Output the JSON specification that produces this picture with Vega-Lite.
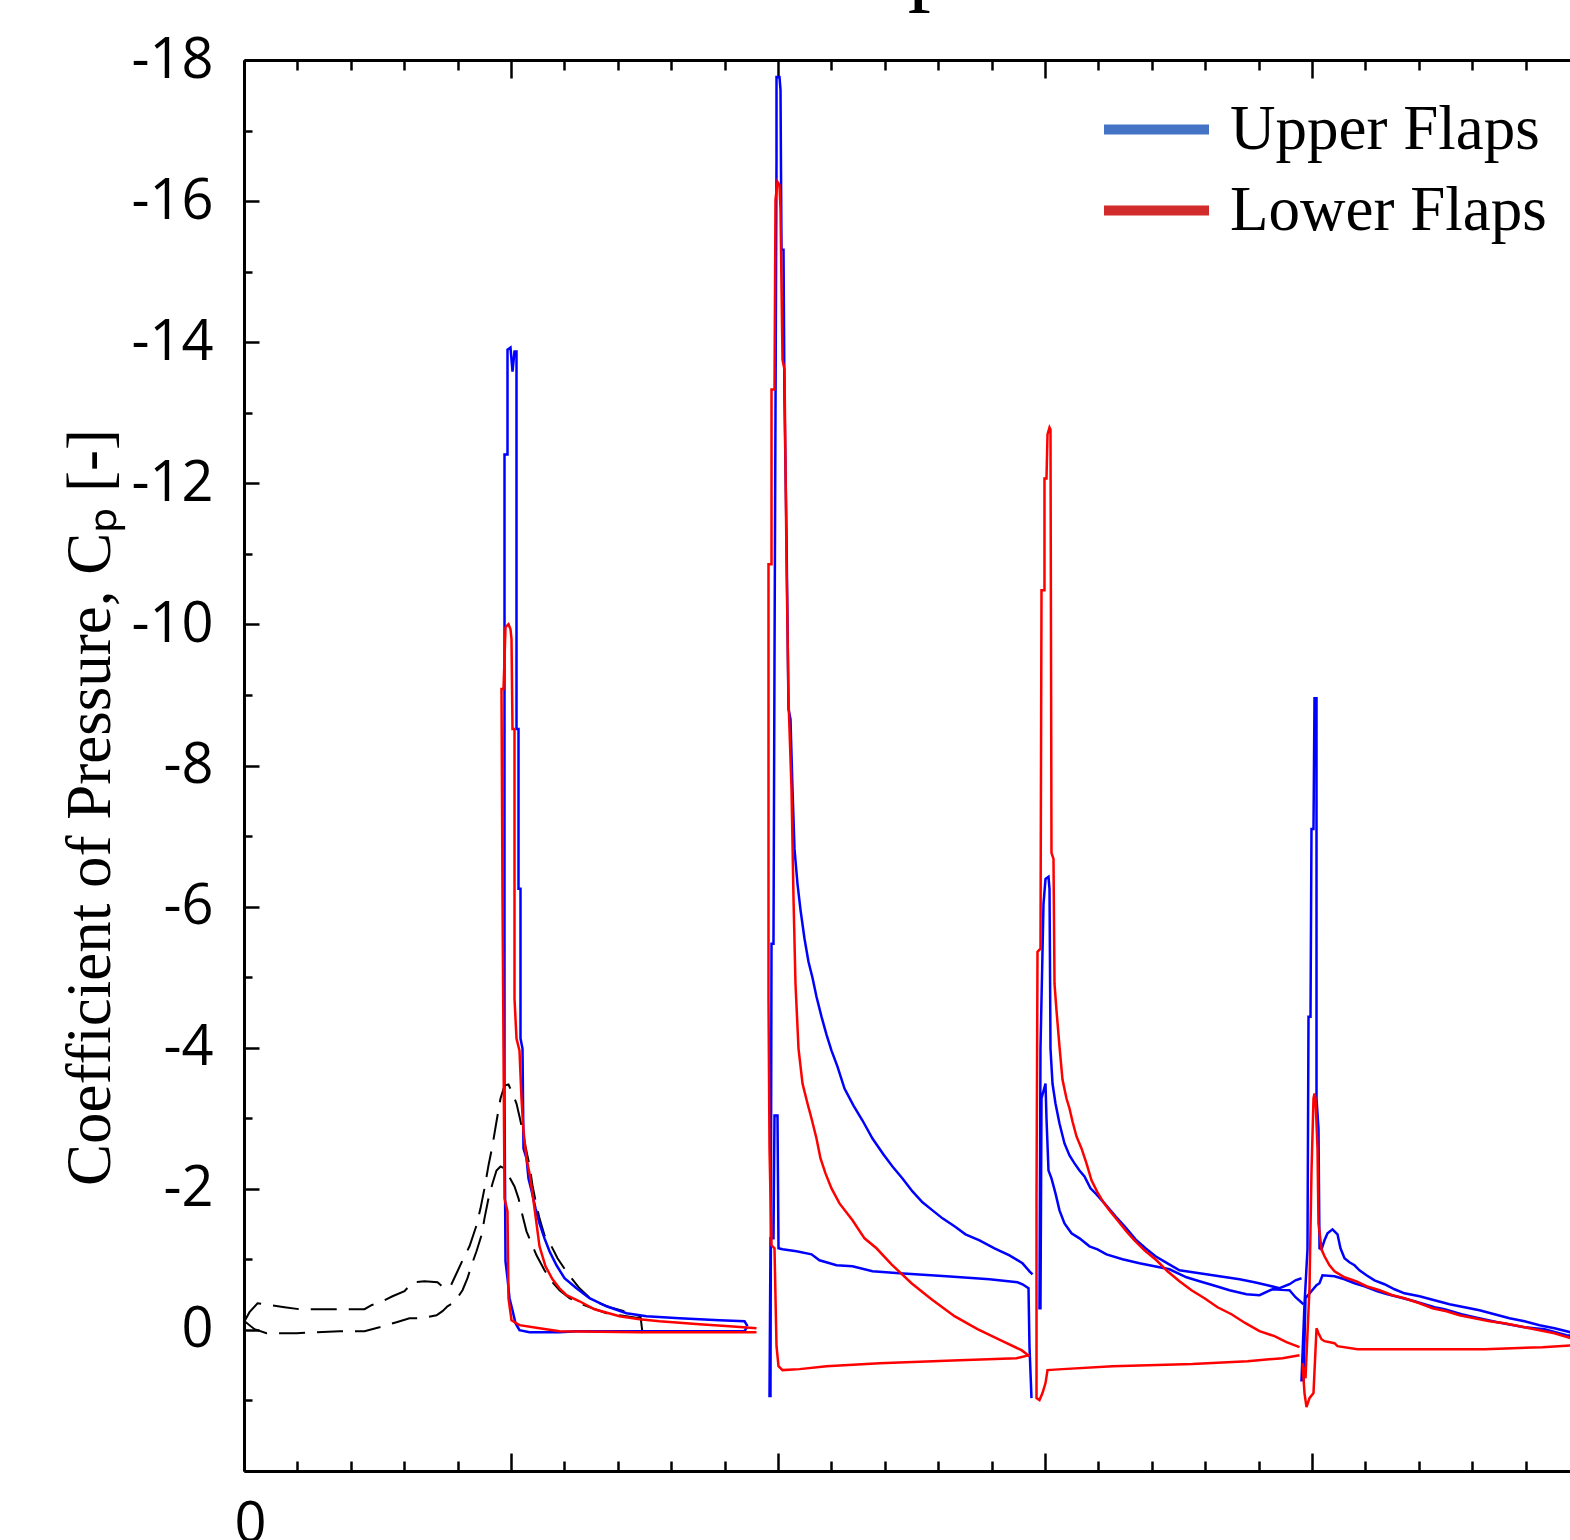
{
  "$schema": "https://vega.github.io/schema/vega-lite/v6.json",
  "width": 1326,
  "height": 1411,
  "autosize": {"type": "none"},
  "padding": {"left": 244, "top": 60, "right": 0, "bottom": 69},
  "background": "white",
  "config": {"view": {"stroke": null}},
  "title": {"text": "Cp", "font": "Liberation Serif", "fontSize": 92, "fontWeight": "normal", "color": "black", "anchor": "middle", "frame": "group", "offset": -54, "baseline": "alphabetic", "dx": -7},
  "datasets": {
    "base": [
      {"s":"A","i":0,"x":0.0019,"y":-0.123},{"s":"A","i":1,"x":0.0206,"y":-0.251},{"s":"A","i":2,"x":0.0506,"y":-0.378},{"s":"A","i":3,"x":0.1517,"y":-0.321},{"s":"A","i":4,"x":0.2079,"y":-0.293},{"s":"A","i":5,"x":0.4513,"y":-0.293},{"s":"A","i":6,"x":0.4775,"y":-0.350},{"s":"A","i":7,"x":0.5262,"y":-0.420},{"s":"A","i":8,"x":0.5562,"y":-0.477},{"s":"A","i":9,"x":0.6011,"y":-0.548},{"s":"A","i":10,"x":0.6311,"y":-0.675},{"s":"A","i":11,"x":0.6760,"y":-0.689},{"s":"A","i":12,"x":0.7247,"y":-0.675},{"s":"A","i":13,"x":0.7509,"y":-0.590},{"s":"A","i":14,"x":0.7734,"y":-0.619},{"s":"A","i":15,"x":0.7996,"y":-0.831},{"s":"A","i":16,"x":0.8221,"y":-1.015},{"s":"A","i":17,"x":0.8446,"y":-1.185},{"s":"A","i":18,"x":0.8708,"y":-1.482},{"s":"A","i":19,"x":0.8858,"y":-1.723},{"s":"A","i":20,"x":0.9007,"y":-2.006},{"s":"A","i":21,"x":0.9157,"y":-2.331},{"s":"A","i":22,"x":0.9307,"y":-2.614},{"s":"A","i":23,"x":0.9457,"y":-2.954},{"s":"A","i":24,"x":0.9607,"y":-3.280},{"s":"A","i":25,"x":0.9757,"y":-3.464},{"s":"A","i":26,"x":0.9906,"y":-3.478},{"s":"A","i":27,"x":1.0056,"y":-3.350},{"s":"A","i":28,"x":1.0206,"y":-3.209},{"s":"A","i":29,"x":1.0318,"y":-3.025},{"s":"A","i":30,"x":1.0431,"y":-2.827},{"s":"A","i":31,"x":1.0543,"y":-2.600},{"s":"A","i":32,"x":1.0693,"y":-2.331},{"s":"A","i":33,"x":1.0805,"y":-2.048},{"s":"A","i":34,"x":1.0955,"y":-1.765},{"s":"A","i":35,"x":1.1067,"y":-1.581},{"s":"A","i":36,"x":1.1255,"y":-1.340},{"s":"A","i":37,"x":1.1517,"y":-1.185},{"s":"A","i":38,"x":1.1742,"y":-1.015},{"s":"A","i":39,"x":1.2116,"y":-0.803},{"s":"A","i":40,"x":1.2566,"y":-0.590},{"s":"A","i":41,"x":1.3052,"y":-0.420},{"s":"A","i":42,"x":1.3689,"y":-0.321},{"s":"A","i":43,"x":1.4251,"y":-0.265},{"s":"A","i":44,"x":1.4850,"y":-0.194},{"s":"A","i":45,"x":1.4925,"y":0.047},
      {"s":"B","i":0,"x":0.0019,"y":-0.123},{"s":"B","i":1,"x":0.0393,"y":-0.010},{"s":"B","i":2,"x":0.0843,"y":0.047},{"s":"B","i":3,"x":0.1966,"y":0.047},{"s":"B","i":4,"x":0.3577,"y":0.018},{"s":"B","i":5,"x":0.4513,"y":0.018},{"s":"B","i":6,"x":0.5075,"y":-0.038},{"s":"B","i":7,"x":0.5712,"y":-0.109},{"s":"B","i":8,"x":0.6199,"y":-0.166},{"s":"B","i":9,"x":0.6648,"y":-0.166},{"s":"B","i":10,"x":0.7210,"y":-0.208},{"s":"B","i":11,"x":0.7434,"y":-0.265},{"s":"B","i":12,"x":0.7622,"y":-0.335},{"s":"B","i":13,"x":0.7884,"y":-0.392},{"s":"B","i":14,"x":0.8034,"y":-0.477},{"s":"B","i":15,"x":0.8184,"y":-0.562},{"s":"B","i":16,"x":0.8371,"y":-0.732},{"s":"B","i":17,"x":0.8521,"y":-0.916},{"s":"B","i":18,"x":0.8708,"y":-1.114},{"s":"B","i":19,"x":0.8895,"y":-1.340},{"s":"B","i":20,"x":0.9007,"y":-1.581},{"s":"B","i":21,"x":0.9157,"y":-1.864},{"s":"B","i":22,"x":0.9307,"y":-2.076},{"s":"B","i":23,"x":0.9457,"y":-2.260},{"s":"B","i":24,"x":0.9607,"y":-2.317},{"s":"B","i":25,"x":0.9757,"y":-2.289},{"s":"B","i":26,"x":0.9906,"y":-2.190},{"s":"B","i":27,"x":1.0131,"y":-2.034},{"s":"B","i":28,"x":1.0281,"y":-1.864},{"s":"B","i":29,"x":1.0431,"y":-1.623},{"s":"B","i":30,"x":1.0581,"y":-1.397},{"s":"B","i":31,"x":1.0768,"y":-1.227},{"s":"B","i":32,"x":1.0955,"y":-1.057},{"s":"B","i":33,"x":1.1255,"y":-0.845},{"s":"B","i":34,"x":1.1517,"y":-0.689},{"s":"B","i":35,"x":1.1816,"y":-0.562},{"s":"B","i":36,"x":1.2191,"y":-0.449},{"s":"B","i":37,"x":1.2566,"y":-0.378},{"s":"B","i":38,"x":1.3052,"y":-0.307},{"s":"B","i":39,"x":1.3577,"y":-0.236},{"s":"B","i":40,"x":1.4064,"y":-0.208},{"s":"B","i":41,"x":1.4813,"y":-0.166},{"s":"B","i":42,"x":1.4925,"y":-0.137}
    ],
    "flaps": [
      {"s":"b1","g":"Upper Flaps","i":0,"x":1.8858,"y":-0.052},{"s":"b1","g":"Upper Flaps","i":1,"x":1.8745,"y":0.018},{"s":"b1","g":"Upper Flaps","i":2,"x":1.7060,"y":0.018},{"s":"b1","g":"Upper Flaps","i":3,"x":1.4925,"y":0.018},{"s":"b1","g":"Upper Flaps","i":4,"x":1.3315,"y":0.018},{"s":"b1","g":"Upper Flaps","i":5,"x":1.2453,"y":0.018},{"s":"b1","g":"Upper Flaps","i":6,"x":1.1816,"y":0.033},{"s":"b1","g":"Upper Flaps","i":7,"x":1.0693,"y":0.033},{"s":"b1","g":"Upper Flaps","i":8,"x":1.0318,"y":0.004},{"s":"b1","g":"Upper Flaps","i":9,"x":1.0169,"y":-0.095},{"s":"b1","g":"Upper Flaps","i":10,"x":1.0056,"y":-0.279},{"s":"b1","g":"Upper Flaps","i":11,"x":0.9944,"y":-0.449},{"s":"b1","g":"Upper Flaps","i":12,"x":0.9869,"y":-0.732},{"s":"b1","g":"Upper Flaps","i":13,"x":0.9794,"y":-0.972},{"s":"b1","g":"Upper Flaps","i":14,"x":0.9757,"y":-3.280},{"s":"b1","g":"Upper Flaps","i":15,"x":0.9757,"y":-12.409},{"s":"b1","g":"Upper Flaps","i":16,"x":0.9869,"y":-12.409},{"s":"b1","g":"Upper Flaps","i":17,"x":0.9869,"y":-13.895},{"s":"b1","g":"Upper Flaps","i":18,"x":0.9981,"y":-13.924},{"s":"b1","g":"Upper Flaps","i":19,"x":1.0056,"y":-13.584},{"s":"b1","g":"Upper Flaps","i":20,"x":1.0131,"y":-13.867},{"s":"b1","g":"Upper Flaps","i":21,"x":1.0206,"y":-13.867},{"s":"b1","g":"Upper Flaps","i":22,"x":1.0206,"y":-8.517},{"s":"b1","g":"Upper Flaps","i":23,"x":1.0281,"y":-8.517},{"s":"b1","g":"Upper Flaps","i":24,"x":1.0281,"y":-6.252},{"s":"b1","g":"Upper Flaps","i":25,"x":1.0356,"y":-6.252},{"s":"b1","g":"Upper Flaps","i":26,"x":1.0356,"y":-4.129},{"s":"b1","g":"Upper Flaps","i":27,"x":1.0431,"y":-3.987},{"s":"b1","g":"Upper Flaps","i":28,"x":1.0468,"y":-2.572},{"s":"b1","g":"Upper Flaps","i":29,"x":1.0581,"y":-2.430},{"s":"b1","g":"Upper Flaps","i":30,"x":1.0655,"y":-2.147},{"s":"b1","g":"Upper Flaps","i":31,"x":1.0768,"y":-1.977},{"s":"b1","g":"Upper Flaps","i":32,"x":1.0918,"y":-1.723},{"s":"b1","g":"Upper Flaps","i":33,"x":1.1067,"y":-1.510},{"s":"b1","g":"Upper Flaps","i":34,"x":1.1255,"y":-1.298},{"s":"b1","g":"Upper Flaps","i":35,"x":1.1442,"y":-1.114},{"s":"b1","g":"Upper Flaps","i":36,"x":1.1704,"y":-0.916},{"s":"b1","g":"Upper Flaps","i":37,"x":1.2004,"y":-0.732},{"s":"b1","g":"Upper Flaps","i":38,"x":1.2453,"y":-0.590},{"s":"b1","g":"Upper Flaps","i":39,"x":1.2940,"y":-0.449},{"s":"b1","g":"Upper Flaps","i":40,"x":1.3577,"y":-0.335},{"s":"b1","g":"Upper Flaps","i":41,"x":1.4326,"y":-0.236},{"s":"b1","g":"Upper Flaps","i":42,"x":1.5075,"y":-0.194},{"s":"b1","g":"Upper Flaps","i":43,"x":1.6311,"y":-0.166},{"s":"b1","g":"Upper Flaps","i":44,"x":1.7809,"y":-0.137},{"s":"b1","g":"Upper Flaps","i":45,"x":1.8745,"y":-0.123},{"s":"b1","g":"Upper Flaps","i":46,"x":1.8858,"y":-0.052},
      {"s":"r1","g":"Lower Flaps","i":0,"x":1.9195,"y":0.033},{"s":"r1","g":"Lower Flaps","i":1,"x":1.7060,"y":0.033},{"s":"r1","g":"Lower Flaps","i":2,"x":1.4813,"y":0.033},{"s":"r1","g":"Lower Flaps","i":3,"x":1.1816,"y":0.018},{"s":"r1","g":"Lower Flaps","i":4,"x":1.1067,"y":-0.024},{"s":"r1","g":"Lower Flaps","i":5,"x":1.0318,"y":-0.067},{"s":"r1","g":"Lower Flaps","i":6,"x":1.0019,"y":-0.137},{"s":"r1","g":"Lower Flaps","i":7,"x":0.9906,"y":-0.449},{"s":"r1","g":"Lower Flaps","i":8,"x":0.9869,"y":-1.680},{"s":"r1","g":"Lower Flaps","i":9,"x":0.9757,"y":-1.864},{"s":"r1","g":"Lower Flaps","i":10,"x":0.9682,"y":-6.110},{"s":"r1","g":"Lower Flaps","i":11,"x":0.9644,"y":-9.083},{"s":"r1","g":"Lower Flaps","i":12,"x":0.9719,"y":-9.083},{"s":"r1","g":"Lower Flaps","i":13,"x":0.9757,"y":-9.507},{"s":"r1","g":"Lower Flaps","i":14,"x":0.9794,"y":-9.960},{"s":"r1","g":"Lower Flaps","i":15,"x":0.9906,"y":-10.003},{"s":"r1","g":"Lower Flaps","i":16,"x":0.9981,"y":-9.932},{"s":"r1","g":"Lower Flaps","i":17,"x":1.0019,"y":-9.791},{"s":"r1","g":"Lower Flaps","i":18,"x":1.0056,"y":-8.517},{"s":"r1","g":"Lower Flaps","i":19,"x":1.0131,"y":-8.517},{"s":"r1","g":"Lower Flaps","i":20,"x":1.0131,"y":-4.695},{"s":"r1","g":"Lower Flaps","i":21,"x":1.0206,"y":-4.129},{"s":"r1","g":"Lower Flaps","i":22,"x":1.0318,"y":-3.959},{"s":"r1","g":"Lower Flaps","i":23,"x":1.0393,"y":-3.280},{"s":"r1","g":"Lower Flaps","i":24,"x":1.0468,"y":-2.812},{"s":"r1","g":"Lower Flaps","i":25,"x":1.0581,"y":-2.430},{"s":"r1","g":"Lower Flaps","i":26,"x":1.0693,"y":-2.218},{"s":"r1","g":"Lower Flaps","i":27,"x":1.0805,"y":-1.935},{"s":"r1","g":"Lower Flaps","i":28,"x":1.0955,"y":-1.510},{"s":"r1","g":"Lower Flaps","i":29,"x":1.1067,"y":-1.185},{"s":"r1","g":"Lower Flaps","i":30,"x":1.1292,"y":-0.902},{"s":"r1","g":"Lower Flaps","i":31,"x":1.1554,"y":-0.718},{"s":"r1","g":"Lower Flaps","i":32,"x":1.1816,"y":-0.590},{"s":"r1","g":"Lower Flaps","i":33,"x":1.2079,"y":-0.491},{"s":"r1","g":"Lower Flaps","i":34,"x":1.2566,"y":-0.406},{"s":"r1","g":"Lower Flaps","i":35,"x":1.3127,"y":-0.293},{"s":"r1","g":"Lower Flaps","i":36,"x":1.4064,"y":-0.194},{"s":"r1","g":"Lower Flaps","i":37,"x":1.4813,"y":-0.151},{"s":"r1","g":"Lower Flaps","i":38,"x":1.5562,"y":-0.123},{"s":"r1","g":"Lower Flaps","i":39,"x":1.7060,"y":-0.081},{"s":"r1","g":"Lower Flaps","i":40,"x":1.8184,"y":-0.052},{"s":"r1","g":"Lower Flaps","i":41,"x":1.9195,"y":-0.024},
      {"s":"b2","g":"Upper Flaps","i":0,"x":2.9494,"y":0.967},{"s":"b2","g":"Upper Flaps","i":1,"x":2.9419,"y":0.231},{"s":"b2","g":"Upper Flaps","i":2,"x":2.9382,"y":-0.590},{"s":"b2","g":"Upper Flaps","i":3,"x":2.9157,"y":-0.647},{"s":"b2","g":"Upper Flaps","i":4,"x":2.8970,"y":-0.675},{"s":"b2","g":"Upper Flaps","i":5,"x":2.7921,"y":-0.718},{"s":"b2","g":"Upper Flaps","i":6,"x":2.6311,"y":-0.760},{"s":"b2","g":"Upper Flaps","i":7,"x":2.4551,"y":-0.803},{"s":"b2","g":"Upper Flaps","i":8,"x":2.3539,"y":-0.831},{"s":"b2","g":"Upper Flaps","i":9,"x":2.2790,"y":-0.902},{"s":"b2","g":"Upper Flaps","i":10,"x":2.2191,"y":-0.916},{"s":"b2","g":"Upper Flaps","i":11,"x":2.1554,"y":-0.987},{"s":"b2","g":"Upper Flaps","i":12,"x":2.1255,"y":-1.071},{"s":"b2","g":"Upper Flaps","i":13,"x":2.0693,"y":-1.114},{"s":"b2","g":"Upper Flaps","i":14,"x":2.0169,"y":-1.142},{"s":"b2","g":"Upper Flaps","i":15,"x":2.0019,"y":-1.157},{"s":"b2","g":"Upper Flaps","i":16,"x":1.9981,"y":-3.039},{"s":"b2","g":"Upper Flaps","i":17,"x":1.9869,"y":-3.039},{"s":"b2","g":"Upper Flaps","i":18,"x":1.9831,"y":-1.298},{"s":"b2","g":"Upper Flaps","i":19,"x":1.9719,"y":-1.298},{"s":"b2","g":"Upper Flaps","i":20,"x":1.9682,"y":0.938},{"s":"b2","g":"Upper Flaps","i":21,"x":1.9719,"y":0.938},{"s":"b2","g":"Upper Flaps","i":22,"x":1.9757,"y":-5.473},{"s":"b2","g":"Upper Flaps","i":23,"x":1.9831,"y":-5.473},{"s":"b2","g":"Upper Flaps","i":24,"x":1.9869,"y":-9.507},{"s":"b2","g":"Upper Flaps","i":25,"x":1.9944,"y":-16.585},{"s":"b2","g":"Upper Flaps","i":26,"x":1.9944,"y":-17.759},{"s":"b2","g":"Upper Flaps","i":27,"x":2.0056,"y":-17.759},{"s":"b2","g":"Upper Flaps","i":28,"x":2.0094,"y":-17.575},{"s":"b2","g":"Upper Flaps","i":29,"x":2.0131,"y":-15.311},{"s":"b2","g":"Upper Flaps","i":30,"x":2.0206,"y":-15.311},{"s":"b2","g":"Upper Flaps","i":31,"x":2.0243,"y":-13.187},{"s":"b2","g":"Upper Flaps","i":32,"x":2.0318,"y":-11.277},{"s":"b2","g":"Upper Flaps","i":33,"x":2.0393,"y":-8.800},{"s":"b2","g":"Upper Flaps","i":34,"x":2.0468,"y":-8.658},{"s":"b2","g":"Upper Flaps","i":35,"x":2.0543,"y":-7.667},{"s":"b2","g":"Upper Flaps","i":36,"x":2.0618,"y":-6.818},{"s":"b2","g":"Upper Flaps","i":37,"x":2.0730,"y":-6.323},{"s":"b2","g":"Upper Flaps","i":38,"x":2.0843,"y":-5.955},{"s":"b2","g":"Upper Flaps","i":39,"x":2.0993,"y":-5.544},{"s":"b2","g":"Upper Flaps","i":40,"x":2.1142,"y":-5.219},{"s":"b2","g":"Upper Flaps","i":41,"x":2.1292,"y":-4.992},{"s":"b2","g":"Upper Flaps","i":42,"x":2.1442,"y":-4.723},{"s":"b2","g":"Upper Flaps","i":43,"x":2.1629,"y":-4.440},{"s":"b2","g":"Upper Flaps","i":44,"x":2.1816,"y":-4.185},{"s":"b2","g":"Upper Flaps","i":45,"x":2.2004,"y":-3.959},{"s":"b2","g":"Upper Flaps","i":46,"x":2.2228,"y":-3.733},{"s":"b2","g":"Upper Flaps","i":47,"x":2.2491,"y":-3.421},{"s":"b2","g":"Upper Flaps","i":48,"x":2.2828,"y":-3.180},{"s":"b2","g":"Upper Flaps","i":49,"x":2.3165,"y":-2.968},{"s":"b2","g":"Upper Flaps","i":50,"x":2.3539,"y":-2.713},{"s":"b2","g":"Upper Flaps","i":51,"x":2.3951,"y":-2.487},{"s":"b2","g":"Upper Flaps","i":52,"x":2.4288,"y":-2.317},{"s":"b2","g":"Upper Flaps","i":53,"x":2.4663,"y":-2.147},{"s":"b2","g":"Upper Flaps","i":54,"x":2.5037,"y":-1.963},{"s":"b2","g":"Upper Flaps","i":55,"x":2.5412,"y":-1.808},{"s":"b2","g":"Upper Flaps","i":56,"x":2.5787,"y":-1.694},{"s":"b2","g":"Upper Flaps","i":57,"x":2.6161,"y":-1.581},{"s":"b2","g":"Upper Flaps","i":58,"x":2.6610,"y":-1.468},{"s":"b2","g":"Upper Flaps","i":59,"x":2.7022,"y":-1.355},{"s":"b2","g":"Upper Flaps","i":60,"x":2.7547,"y":-1.270},{"s":"b2","g":"Upper Flaps","i":61,"x":2.8109,"y":-1.157},{"s":"b2","g":"Upper Flaps","i":62,"x":2.8670,"y":-1.057},{"s":"b2","g":"Upper Flaps","i":63,"x":2.9157,"y":-0.944},{"s":"b2","g":"Upper Flaps","i":64,"x":2.9419,"y":-0.831},{"s":"b2","g":"Upper Flaps","i":65,"x":2.9532,"y":-0.788},
      {"s":"r2","g":"Lower Flaps","i":0,"x":2.9419,"y":0.358},{"s":"r2","g":"Lower Flaps","i":1,"x":2.8933,"y":0.401},{"s":"r2","g":"Lower Flaps","i":2,"x":2.6798,"y":0.429},{"s":"r2","g":"Lower Flaps","i":3,"x":2.3801,"y":0.471},{"s":"r2","g":"Lower Flaps","i":4,"x":2.1816,"y":0.514},{"s":"r2","g":"Lower Flaps","i":5,"x":2.0805,"y":0.556},{"s":"r2","g":"Lower Flaps","i":6,"x":2.0169,"y":0.570},{"s":"r2","g":"Lower Flaps","i":7,"x":2.0019,"y":0.514},{"s":"r2","g":"Lower Flaps","i":8,"x":1.9944,"y":0.231},{"s":"r2","g":"Lower Flaps","i":9,"x":1.9869,"y":-1.157},{"s":"r2","g":"Lower Flaps","i":10,"x":1.9757,"y":-1.199},{"s":"r2","g":"Lower Flaps","i":11,"x":1.9682,"y":-2.572},{"s":"r2","g":"Lower Flaps","i":12,"x":1.9644,"y":-4.695},{"s":"r2","g":"Lower Flaps","i":13,"x":1.9644,"y":-10.852},{"s":"r2","g":"Lower Flaps","i":14,"x":1.9757,"y":-10.852},{"s":"r2","g":"Lower Flaps","i":15,"x":1.9757,"y":-13.329},{"s":"r2","g":"Lower Flaps","i":16,"x":1.9869,"y":-13.329},{"s":"r2","g":"Lower Flaps","i":17,"x":1.9906,"y":-16.018},{"s":"r2","g":"Lower Flaps","i":18,"x":1.9981,"y":-16.273},{"s":"r2","g":"Lower Flaps","i":19,"x":2.0056,"y":-16.231},{"s":"r2","g":"Lower Flaps","i":20,"x":2.0094,"y":-15.877},{"s":"r2","g":"Lower Flaps","i":21,"x":2.0169,"y":-13.754},{"s":"r2","g":"Lower Flaps","i":22,"x":2.0243,"y":-13.612},{"s":"r2","g":"Lower Flaps","i":23,"x":2.0318,"y":-10.923},{"s":"r2","g":"Lower Flaps","i":24,"x":2.0393,"y":-8.941},{"s":"r2","g":"Lower Flaps","i":25,"x":2.0506,"y":-7.667},{"s":"r2","g":"Lower Flaps","i":26,"x":2.0581,"y":-6.110},{"s":"r2","g":"Lower Flaps","i":27,"x":2.0655,"y":-4.907},{"s":"r2","g":"Lower Flaps","i":28,"x":2.0768,"y":-3.987},{"s":"r2","g":"Lower Flaps","i":29,"x":2.0918,"y":-3.492},{"s":"r2","g":"Lower Flaps","i":30,"x":2.1105,"y":-3.209},{"s":"r2","g":"Lower Flaps","i":31,"x":2.1255,"y":-2.996},{"s":"r2","g":"Lower Flaps","i":32,"x":2.1442,"y":-2.713},{"s":"r2","g":"Lower Flaps","i":33,"x":2.1592,"y":-2.430},{"s":"r2","g":"Lower Flaps","i":34,"x":2.1779,"y":-2.218},{"s":"r2","g":"Lower Flaps","i":35,"x":2.2004,"y":-2.006},{"s":"r2","g":"Lower Flaps","i":36,"x":2.2303,"y":-1.793},{"s":"r2","g":"Lower Flaps","i":37,"x":2.2790,"y":-1.553},{"s":"r2","g":"Lower Flaps","i":38,"x":2.3240,"y":-1.298},{"s":"r2","g":"Lower Flaps","i":39,"x":2.3689,"y":-1.157},{"s":"r2","g":"Lower Flaps","i":40,"x":2.4251,"y":-0.930},{"s":"r2","g":"Lower Flaps","i":41,"x":2.5000,"y":-0.661},{"s":"r2","g":"Lower Flaps","i":42,"x":2.5749,"y":-0.435},{"s":"r2","g":"Lower Flaps","i":43,"x":2.6610,"y":-0.194},{"s":"r2","g":"Lower Flaps","i":44,"x":2.7472,"y":-0.010},{"s":"r2","g":"Lower Flaps","i":45,"x":2.8408,"y":0.160},{"s":"r2","g":"Lower Flaps","i":46,"x":2.9120,"y":0.287},{"s":"r2","g":"Lower Flaps","i":47,"x":2.9419,"y":0.372},
      {"s":"b3","g":"Upper Flaps","i":0,"x":3.9682,"y":-0.364},{"s":"b3","g":"Upper Flaps","i":1,"x":3.9382,"y":-0.463},{"s":"b3","g":"Upper Flaps","i":2,"x":3.9157,"y":-0.562},{"s":"b3","g":"Upper Flaps","i":3,"x":3.8521,"y":-0.576},{"s":"b3","g":"Upper Flaps","i":4,"x":3.8034,"y":-0.491},{"s":"b3","g":"Upper Flaps","i":5,"x":3.7547,"y":-0.505},{"s":"b3","g":"Upper Flaps","i":6,"x":3.6910,"y":-0.562},{"s":"b3","g":"Upper Flaps","i":7,"x":3.6423,"y":-0.619},{"s":"b3","g":"Upper Flaps","i":8,"x":3.5787,"y":-0.689},{"s":"b3","g":"Upper Flaps","i":9,"x":3.5300,"y":-0.746},{"s":"b3","g":"Upper Flaps","i":10,"x":3.4663,"y":-0.859},{"s":"b3","g":"Upper Flaps","i":11,"x":3.4101,"y":-0.902},{"s":"b3","g":"Upper Flaps","i":12,"x":3.3539,"y":-0.944},{"s":"b3","g":"Upper Flaps","i":13,"x":3.2903,"y":-1.001},{"s":"b3","g":"Upper Flaps","i":14,"x":3.2303,"y":-1.071},{"s":"b3","g":"Upper Flaps","i":15,"x":3.1966,"y":-1.142},{"s":"b3","g":"Upper Flaps","i":16,"x":3.1667,"y":-1.185},{"s":"b3","g":"Upper Flaps","i":17,"x":3.1292,"y":-1.298},{"s":"b3","g":"Upper Flaps","i":18,"x":3.0993,"y":-1.369},{"s":"b3","g":"Upper Flaps","i":19,"x":3.0730,"y":-1.510},{"s":"b3","g":"Upper Flaps","i":20,"x":3.0543,"y":-1.694},{"s":"b3","g":"Upper Flaps","i":21,"x":3.0393,"y":-1.935},{"s":"b3","g":"Upper Flaps","i":22,"x":3.0243,"y":-2.147},{"s":"b3","g":"Upper Flaps","i":23,"x":3.0131,"y":-2.260},{"s":"b3","g":"Upper Flaps","i":24,"x":3.0056,"y":-2.996},{"s":"b3","g":"Upper Flaps","i":25,"x":3.0019,"y":-3.492},{"s":"b3","g":"Upper Flaps","i":26,"x":2.9869,"y":-3.280},{"s":"b3","g":"Upper Flaps","i":27,"x":2.9831,"y":-0.307},{"s":"b3","g":"Upper Flaps","i":28,"x":2.9794,"y":-0.307},{"s":"b3","g":"Upper Flaps","i":29,"x":2.9831,"y":-3.987},{"s":"b3","g":"Upper Flaps","i":30,"x":2.9944,"y":-6.040},{"s":"b3","g":"Upper Flaps","i":31,"x":3.0019,"y":-6.393},{"s":"b3","g":"Upper Flaps","i":32,"x":3.0131,"y":-6.422},{"s":"b3","g":"Upper Flaps","i":33,"x":3.0169,"y":-6.252},{"s":"b3","g":"Upper Flaps","i":34,"x":3.0206,"y":-3.987},{"s":"b3","g":"Upper Flaps","i":35,"x":3.0281,"y":-3.492},{"s":"b3","g":"Upper Flaps","i":36,"x":3.0393,"y":-3.209},{"s":"b3","g":"Upper Flaps","i":37,"x":3.0543,"y":-2.926},{"s":"b3","g":"Upper Flaps","i":38,"x":3.0730,"y":-2.643},{"s":"b3","g":"Upper Flaps","i":39,"x":3.0918,"y":-2.473},{"s":"b3","g":"Upper Flaps","i":40,"x":3.1105,"y":-2.360},{"s":"b3","g":"Upper Flaps","i":41,"x":3.1292,"y":-2.260},{"s":"b3","g":"Upper Flaps","i":42,"x":3.1479,"y":-2.176},{"s":"b3","g":"Upper Flaps","i":43,"x":3.1704,"y":-2.006},{"s":"b3","g":"Upper Flaps","i":44,"x":3.1929,"y":-1.921},{"s":"b3","g":"Upper Flaps","i":45,"x":3.2228,"y":-1.793},{"s":"b3","g":"Upper Flaps","i":46,"x":3.2640,"y":-1.609},{"s":"b3","g":"Upper Flaps","i":47,"x":3.3015,"y":-1.454},{"s":"b3","g":"Upper Flaps","i":48,"x":3.3390,"y":-1.284},{"s":"b3","g":"Upper Flaps","i":49,"x":3.3764,"y":-1.157},{"s":"b3","g":"Upper Flaps","i":50,"x":3.4139,"y":-1.043},{"s":"b3","g":"Upper Flaps","i":51,"x":3.4588,"y":-0.944},{"s":"b3","g":"Upper Flaps","i":52,"x":3.5037,"y":-0.845},{"s":"b3","g":"Upper Flaps","i":53,"x":3.5787,"y":-0.803},{"s":"b3","g":"Upper Flaps","i":54,"x":3.6536,"y":-0.760},{"s":"b3","g":"Upper Flaps","i":55,"x":3.7285,"y":-0.718},{"s":"b3","g":"Upper Flaps","i":56,"x":3.7846,"y":-0.675},{"s":"b3","g":"Upper Flaps","i":57,"x":3.8333,"y":-0.633},{"s":"b3","g":"Upper Flaps","i":58,"x":3.8783,"y":-0.590},{"s":"b3","g":"Upper Flaps","i":59,"x":3.9157,"y":-0.647},{"s":"b3","g":"Upper Flaps","i":60,"x":3.9382,"y":-0.703},{"s":"b3","g":"Upper Flaps","i":61,"x":3.9607,"y":-0.732},
      {"s":"r3","g":"Lower Flaps","i":0,"x":3.9532,"y":0.358},{"s":"r3","g":"Lower Flaps","i":1,"x":3.8895,"y":0.401},{"s":"r3","g":"Lower Flaps","i":2,"x":3.7584,"y":0.443},{"s":"r3","g":"Lower Flaps","i":3,"x":3.5524,"y":0.485},{"s":"r3","g":"Lower Flaps","i":4,"x":3.2528,"y":0.514},{"s":"r3","g":"Lower Flaps","i":5,"x":3.0655,"y":0.556},{"s":"r3","g":"Lower Flaps","i":6,"x":3.0094,"y":0.570},{"s":"r3","g":"Lower Flaps","i":7,"x":3.0019,"y":0.754},{"s":"r3","g":"Lower Flaps","i":8,"x":2.9906,"y":0.896},{"s":"r3","g":"Lower Flaps","i":9,"x":2.9794,"y":0.995},{"s":"r3","g":"Lower Flaps","i":10,"x":2.9682,"y":0.967},{"s":"r3","g":"Lower Flaps","i":11,"x":2.9682,"y":-1.864},{"s":"r3","g":"Lower Flaps","i":12,"x":2.9719,"y":-5.360},{"s":"r3","g":"Lower Flaps","i":13,"x":2.9831,"y":-5.403},{"s":"r3","g":"Lower Flaps","i":14,"x":2.9869,"y":-10.484},{"s":"r3","g":"Lower Flaps","i":15,"x":2.9981,"y":-10.484},{"s":"r3","g":"Lower Flaps","i":16,"x":2.9981,"y":-12.069},{"s":"r3","g":"Lower Flaps","i":17,"x":3.0056,"y":-12.069},{"s":"r3","g":"Lower Flaps","i":18,"x":3.0094,"y":-12.692},{"s":"r3","g":"Lower Flaps","i":19,"x":3.0169,"y":-12.791},{"s":"r3","g":"Lower Flaps","i":20,"x":3.0206,"y":-12.763},{"s":"r3","g":"Lower Flaps","i":21,"x":3.0243,"y":-6.761},{"s":"r3","g":"Lower Flaps","i":22,"x":3.0318,"y":-6.677},{"s":"r3","g":"Lower Flaps","i":23,"x":3.0356,"y":-4.907},{"s":"r3","g":"Lower Flaps","i":24,"x":3.0431,"y":-4.525},{"s":"r3","g":"Lower Flaps","i":25,"x":3.0543,"y":-4.016},{"s":"r3","g":"Lower Flaps","i":26,"x":3.0655,"y":-3.548},{"s":"r3","g":"Lower Flaps","i":27,"x":3.0805,"y":-3.280},{"s":"r3","g":"Lower Flaps","i":28,"x":3.0918,"y":-3.138},{"s":"r3","g":"Lower Flaps","i":29,"x":3.1030,"y":-2.954},{"s":"r3","g":"Lower Flaps","i":30,"x":3.1180,"y":-2.742},{"s":"r3","g":"Lower Flaps","i":31,"x":3.1367,"y":-2.572},{"s":"r3","g":"Lower Flaps","i":32,"x":3.1554,"y":-2.360},{"s":"r3","g":"Lower Flaps","i":33,"x":3.1742,"y":-2.119},{"s":"r3","g":"Lower Flaps","i":34,"x":3.1966,"y":-1.949},{"s":"r3","g":"Lower Flaps","i":35,"x":3.2191,"y":-1.808},{"s":"r3","g":"Lower Flaps","i":36,"x":3.2416,"y":-1.694},{"s":"r3","g":"Lower Flaps","i":37,"x":3.2715,"y":-1.553},{"s":"r3","g":"Lower Flaps","i":38,"x":3.3052,"y":-1.397},{"s":"r3","g":"Lower Flaps","i":39,"x":3.3352,"y":-1.270},{"s":"r3","g":"Lower Flaps","i":40,"x":3.3727,"y":-1.128},{"s":"r3","g":"Lower Flaps","i":41,"x":3.4176,"y":-0.987},{"s":"r3","g":"Lower Flaps","i":42,"x":3.4588,"y":-0.831},{"s":"r3","g":"Lower Flaps","i":43,"x":3.5037,"y":-0.689},{"s":"r3","g":"Lower Flaps","i":44,"x":3.5487,"y":-0.562},{"s":"r3","g":"Lower Flaps","i":45,"x":3.5974,"y":-0.449},{"s":"r3","g":"Lower Flaps","i":46,"x":3.6461,"y":-0.321},{"s":"r3","g":"Lower Flaps","i":47,"x":3.6985,"y":-0.222},{"s":"r3","g":"Lower Flaps","i":48,"x":3.7509,"y":-0.095},{"s":"r3","g":"Lower Flaps","i":49,"x":3.8034,"y":0.018},{"s":"r3","g":"Lower Flaps","i":50,"x":3.8596,"y":0.089},{"s":"r3","g":"Lower Flaps","i":51,"x":3.9045,"y":0.174},{"s":"r3","g":"Lower Flaps","i":52,"x":3.9532,"y":0.245},
      {"s":"b4","g":"Upper Flaps","i":0,"x":4.9831,"y":0.089},{"s":"b4","g":"Upper Flaps","i":1,"x":4.9532,"y":0.075},{"s":"b4","g":"Upper Flaps","i":2,"x":4.8708,"y":-0.010},{"s":"b4","g":"Upper Flaps","i":3,"x":4.7959,"y":-0.038},{"s":"b4","g":"Upper Flaps","i":4,"x":4.6948,"y":-0.109},{"s":"b4","g":"Upper Flaps","i":5,"x":4.6086,"y":-0.180},{"s":"b4","g":"Upper Flaps","i":6,"x":4.5599,"y":-0.222},{"s":"b4","g":"Upper Flaps","i":7,"x":4.4963,"y":-0.293},{"s":"b4","g":"Upper Flaps","i":8,"x":4.4588,"y":-0.321},{"s":"b4","g":"Upper Flaps","i":9,"x":4.3839,"y":-0.406},{"s":"b4","g":"Upper Flaps","i":10,"x":4.3277,"y":-0.463},{"s":"b4","g":"Upper Flaps","i":11,"x":4.2828,"y":-0.505},{"s":"b4","g":"Upper Flaps","i":12,"x":4.2453,"y":-0.548},{"s":"b4","g":"Upper Flaps","i":13,"x":4.1966,"y":-0.619},{"s":"b4","g":"Upper Flaps","i":14,"x":4.1592,"y":-0.661},{"s":"b4","g":"Upper Flaps","i":15,"x":4.1217,"y":-0.718},{"s":"b4","g":"Upper Flaps","i":16,"x":4.0843,"y":-0.760},{"s":"b4","g":"Upper Flaps","i":17,"x":4.0393,"y":-0.774},{"s":"b4","g":"Upper Flaps","i":18,"x":4.0281,"y":-0.661},{"s":"b4","g":"Upper Flaps","i":19,"x":4.0169,"y":-0.633},{"s":"b4","g":"Upper Flaps","i":20,"x":3.9757,"y":-0.449},{"s":"b4","g":"Upper Flaps","i":21,"x":3.9682,"y":0.712},{"s":"b4","g":"Upper Flaps","i":22,"x":3.9607,"y":0.712},{"s":"b4","g":"Upper Flaps","i":23,"x":3.9719,"y":-0.364},{"s":"b4","g":"Upper Flaps","i":24,"x":3.9831,"y":-1.142},{"s":"b4","g":"Upper Flaps","i":25,"x":3.9869,"y":-4.440},{"s":"b4","g":"Upper Flaps","i":26,"x":3.9944,"y":-4.440},{"s":"b4","g":"Upper Flaps","i":27,"x":3.9981,"y":-7.101},{"s":"b4","g":"Upper Flaps","i":28,"x":4.0056,"y":-7.101},{"s":"b4","g":"Upper Flaps","i":29,"x":4.0094,"y":-8.955},{"s":"b4","g":"Upper Flaps","i":30,"x":4.0169,"y":-8.955},{"s":"b4","g":"Upper Flaps","i":31,"x":4.0169,"y":-3.280},{"s":"b4","g":"Upper Flaps","i":32,"x":4.0243,"y":-2.855},{"s":"b4","g":"Upper Flaps","i":33,"x":4.0281,"y":-1.157},{"s":"b4","g":"Upper Flaps","i":34,"x":4.0356,"y":-1.142},{"s":"b4","g":"Upper Flaps","i":35,"x":4.0468,"y":-1.270},{"s":"b4","g":"Upper Flaps","i":36,"x":4.0581,"y":-1.369},{"s":"b4","g":"Upper Flaps","i":37,"x":4.0768,"y":-1.425},{"s":"b4","g":"Upper Flaps","i":38,"x":4.0955,"y":-1.355},{"s":"b4","g":"Upper Flaps","i":39,"x":4.1067,"y":-1.157},{"s":"b4","g":"Upper Flaps","i":40,"x":4.1217,"y":-1.015},{"s":"b4","g":"Upper Flaps","i":41,"x":4.1404,"y":-0.958},{"s":"b4","g":"Upper Flaps","i":42,"x":4.1592,"y":-0.916},{"s":"b4","g":"Upper Flaps","i":43,"x":4.1779,"y":-0.845},{"s":"b4","g":"Upper Flaps","i":44,"x":4.2041,"y":-0.774},{"s":"b4","g":"Upper Flaps","i":45,"x":4.2341,"y":-0.703},{"s":"b4","g":"Upper Flaps","i":46,"x":4.2715,"y":-0.647},{"s":"b4","g":"Upper Flaps","i":47,"x":4.3090,"y":-0.576},{"s":"b4","g":"Upper Flaps","i":48,"x":4.3464,"y":-0.519},{"s":"b4","g":"Upper Flaps","i":49,"x":4.4026,"y":-0.477},{"s":"b4","g":"Upper Flaps","i":50,"x":4.4588,"y":-0.420},{"s":"b4","g":"Upper Flaps","i":51,"x":4.5150,"y":-0.364},{"s":"b4","g":"Upper Flaps","i":52,"x":4.5712,"y":-0.321},{"s":"b4","g":"Upper Flaps","i":53,"x":4.6273,"y":-0.279},{"s":"b4","g":"Upper Flaps","i":54,"x":4.6835,"y":-0.222},{"s":"b4","g":"Upper Flaps","i":55,"x":4.7397,"y":-0.166},{"s":"b4","g":"Upper Flaps","i":56,"x":4.7959,"y":-0.123},{"s":"b4","g":"Upper Flaps","i":57,"x":4.8521,"y":-0.067},{"s":"b4","g":"Upper Flaps","i":58,"x":4.9082,"y":-0.024},{"s":"b4","g":"Upper Flaps","i":59,"x":4.9831,"y":0.047},
      {"s":"r4","g":"Lower Flaps","i":0,"x":4.9831,"y":0.217},{"s":"r4","g":"Lower Flaps","i":1,"x":4.8633,"y":0.245},{"s":"r4","g":"Lower Flaps","i":2,"x":4.6461,"y":0.273},{"s":"r4","g":"Lower Flaps","i":3,"x":4.1704,"y":0.273},{"s":"r4","g":"Lower Flaps","i":4,"x":4.0955,"y":0.231},{"s":"r4","g":"Lower Flaps","i":5,"x":4.0843,"y":0.188},{"s":"r4","g":"Lower Flaps","i":6,"x":4.0468,"y":0.160},{"s":"r4","g":"Lower Flaps","i":7,"x":4.0356,"y":0.132},{"s":"r4","g":"Lower Flaps","i":8,"x":4.0243,"y":0.047},{"s":"r4","g":"Lower Flaps","i":9,"x":4.0169,"y":-0.024},{"s":"r4","g":"Lower Flaps","i":10,"x":4.0056,"y":0.896},{"s":"r4","g":"Lower Flaps","i":11,"x":3.9906,"y":0.967},{"s":"r4","g":"Lower Flaps","i":12,"x":3.9794,"y":1.094},{"s":"r4","g":"Lower Flaps","i":13,"x":3.9719,"y":0.896},{"s":"r4","g":"Lower Flaps","i":14,"x":3.9644,"y":0.471},{"s":"r4","g":"Lower Flaps","i":15,"x":3.9757,"y":0.684},{"s":"r4","g":"Lower Flaps","i":16,"x":3.9906,"y":-0.590},{"s":"r4","g":"Lower Flaps","i":17,"x":3.9981,"y":-2.246},{"s":"r4","g":"Lower Flaps","i":18,"x":4.0056,"y":-3.280},{"s":"r4","g":"Lower Flaps","i":19,"x":4.0094,"y":-3.350},{"s":"r4","g":"Lower Flaps","i":20,"x":4.0131,"y":-3.280},{"s":"r4","g":"Lower Flaps","i":21,"x":4.0206,"y":-2.572},{"s":"r4","g":"Lower Flaps","i":22,"x":4.0243,"y":-1.510},{"s":"r4","g":"Lower Flaps","i":23,"x":4.0356,"y":-1.142},{"s":"r4","g":"Lower Flaps","i":24,"x":4.0468,"y":-1.043},{"s":"r4","g":"Lower Flaps","i":25,"x":4.0655,"y":-0.916},{"s":"r4","g":"Lower Flaps","i":26,"x":4.0843,"y":-0.831},{"s":"r4","g":"Lower Flaps","i":27,"x":4.1217,"y":-0.746},{"s":"r4","g":"Lower Flaps","i":28,"x":4.1667,"y":-0.689},{"s":"r4","g":"Lower Flaps","i":29,"x":4.2041,"y":-0.619},{"s":"r4","g":"Lower Flaps","i":30,"x":4.2528,"y":-0.562},{"s":"r4","g":"Lower Flaps","i":31,"x":4.3015,"y":-0.491},{"s":"r4","g":"Lower Flaps","i":32,"x":4.3464,"y":-0.449},{"s":"r4","g":"Lower Flaps","i":33,"x":4.4026,"y":-0.378},{"s":"r4","g":"Lower Flaps","i":34,"x":4.4513,"y":-0.307},{"s":"r4","g":"Lower Flaps","i":35,"x":4.5037,"y":-0.265},{"s":"r4","g":"Lower Flaps","i":36,"x":4.5524,"y":-0.208},{"s":"r4","g":"Lower Flaps","i":37,"x":4.6086,"y":-0.166},{"s":"r4","g":"Lower Flaps","i":38,"x":4.6648,"y":-0.123},{"s":"r4","g":"Lower Flaps","i":39,"x":4.7210,"y":-0.095},{"s":"r4","g":"Lower Flaps","i":40,"x":4.7772,"y":-0.052},{"s":"r4","g":"Lower Flaps","i":41,"x":4.8521,"y":0.004},{"s":"r4","g":"Lower Flaps","i":42,"x":4.9082,"y":0.047},{"s":"r4","g":"Lower Flaps","i":43,"x":4.9831,"y":0.132}
    ]
  },
  "resolve": {"axis": {"x": "independent"}},
  "layer": [
    {
      "data": {"name": "base"},
      "mark": {"type": "line", "color": "black", "strokeWidth": 2, "strokeDash": [26, 12], "clip": true},
      "encoding": {
        "x": {"field": "x", "type": "quantitative",
          "scale": {"domain": [0, 4.9663], "nice": false, "zero": false},
          "axis": {"orient": "bottom", "values": [0,0.2,0.4,0.6,0.8,1,1.2,1.4,1.6,1.8,2,2.2,2.4,2.6,2.8,3,3.2,3.4,3.6,3.8,4,4.2,4.4,4.6,4.8],
            "tickSize": {"condition": {"test": "abs(datum.value - round(datum.value)) < 0.01", "value": -18}, "value": -10},
            "tickWidth": 2.5, "tickColor": "black", "domainColor": "black", "domainWidth": 3,
            "labelExpr": "datum.value == 0 ? '0' : ''", "labelFont": "Open Sans", "labelFontSize": 56, "labelColor": "black",
            "labelPadding": 44, "labelOffset": 6, "labelFlush": false, "labelOverlap": false, "labelBound": false,
            "grid": false, "title": null}},
        "y": {"field": "y", "type": "quantitative",
          "scale": {"domain": [-18, 2], "nice": false, "zero": false, "reverse": true},
          "axis": {"orient": "left", "values": [-18,-17,-16,-15,-14,-13,-12,-11,-10,-9,-8,-7,-6,-5,-4,-3,-2,-1,0,1,2],
            "tickSize": {"condition": {"test": "datum.value % 2 == 0", "value": -15}, "value": -8},
            "tickWidth": 2.5, "tickColor": "black", "domainColor": "black", "domainWidth": 3,
            "labelExpr": "(datum.value % 2 == 0 && datum.value <= 0) ? toString(datum.value) : ''",
            "labelFont": "Open Sans", "labelFontSize": 56, "labelColor": "black", "labelPadding": 46,
            "labelFlush": false, "labelOverlap": false, "grid": false,
            "title": "Coefficient of Pressure, Cₚ [-]", "titleFont": "Liberation Serif", "titleFontSize": 63,
            "titleFontWeight": "normal", "titleColor": "black", "titleX": -135, "titleY": 747,
            "titleAngle": 270, "titleBaseline": "alphabetic", "titleAlign": "center"}},
        "detail": {"field": "s", "type": "nominal"},
        "order": {"field": "i", "type": "quantitative"}
      }
    },
    {
      "data": {"name": "flaps"},
      "mark": {"type": "line", "strokeWidth": 2.5, "clip": true},
      "encoding": {
        "x": {"field": "x", "type": "quantitative",
          "scale": {"domain": [0, 4.9663], "nice": false, "zero": false},
          "axis": {"orient": "top", "values": [0,0.2,0.4,0.6,0.8,1,1.2,1.4,1.6,1.8,2,2.2,2.4,2.6,2.8,3,3.2,3.4,3.6,3.8,4,4.2,4.4,4.6,4.8],
            "tickSize": {"condition": {"test": "abs(datum.value - round(datum.value)) < 0.01", "value": -18}, "value": -10},
            "tickWidth": 2.5, "tickColor": "black", "domainColor": "black", "domainWidth": 3,
            "labels": false, "grid": false, "title": null}},
        "y": {"field": "y", "type": "quantitative",
          "scale": {"domain": [-18, 2], "nice": false, "zero": false, "reverse": true},
          "axis": {"orient": "left", "values": [-18,-17,-16,-15,-14,-13,-12,-11,-10,-9,-8,-7,-6,-5,-4,-3,-2,-1,0,1,2],
            "tickSize": {"condition": {"test": "datum.value % 2 == 0", "value": -15}, "value": -8},
            "tickWidth": 2.5, "tickColor": "black", "domainColor": "black", "domainWidth": 3,
            "labelExpr": "(datum.value % 2 == 0 && datum.value <= 0) ? toString(datum.value) : ''",
            "labelFont": "Open Sans", "labelFontSize": 56, "labelColor": "black", "labelPadding": 46,
            "labelFlush": false, "labelOverlap": false, "grid": false,
            "title": "Coefficient of Pressure, Cₚ [-]", "titleFont": "Liberation Serif", "titleFontSize": 63,
            "titleFontWeight": "normal", "titleColor": "black", "titleX": -135, "titleY": 747,
            "titleAngle": 270, "titleBaseline": "alphabetic", "titleAlign": "center"}},
        "stroke": {"field": "g", "type": "nominal",
          "scale": {"domain": ["Lower Flaps", "Upper Flaps"], "range": ["#ff0000", "#0000ff"]},
          "legend": null},
        "detail": {"field": "s", "type": "nominal"},
        "order": {"field": "i", "type": "quantitative"}
      }
    },
    {
      "data": {"name": "flaps"},
      "transform": [{"filter": "datum.i < 0"}],
      "mark": {"type": "line", "strokeWidth": 2.5, "clip": true},
      "encoding": {
        "x": {"field": "x", "type": "quantitative",
          "scale": {"domain": [0, 4.9663], "nice": false, "zero": false},
          "axis": null},
        "y": {"field": "y", "type": "quantitative",
          "scale": {"domain": [-18, 2], "nice": false, "zero": false, "reverse": true},
          "axis": {"orient": "left", "values": [-18,-17,-16,-15,-14,-13,-12,-11,-10,-9,-8,-7,-6,-5,-4,-3,-2,-1,0,1,2],
            "tickSize": {"condition": {"test": "datum.value % 2 == 0", "value": -15}, "value": -8},
            "tickWidth": 2.5, "tickColor": "black", "domainColor": "black", "domainWidth": 3,
            "labelExpr": "(datum.value % 2 == 0 && datum.value <= 0) ? toString(datum.value) : ''",
            "labelFont": "Open Sans", "labelFontSize": 56, "labelColor": "black", "labelPadding": 46,
            "labelFlush": false, "labelOverlap": false, "grid": false,
            "title": "Coefficient of Pressure, Cₚ [-]", "titleFont": "Liberation Serif", "titleFontSize": 63,
            "titleFontWeight": "normal", "titleColor": "black", "titleX": -135, "titleY": 747,
            "titleAngle": 270, "titleBaseline": "alphabetic", "titleAlign": "center"}},
        "color": {"field": "g", "type": "nominal",
          "scale": {"domain": ["Upper Flaps", "Lower Flaps"], "range": ["#4472c4", "#d22b2b"]},
          "legend": {"title": null, "orient": "none", "legendX": 855, "legendY": 30, "padding": 0,
            "symbolType": "stroke", "symbolSize": 11025, "symbolStrokeWidth": 10,
            "labelFont": "Liberation Serif", "labelFontSize": 63, "labelColor": "black", "labelOffset": 16, "labelLimit": 0,
            "clipHeight": 79, "rowPadding": 2}},
        "detail": {"field": "s", "type": "nominal"},
        "order": {"field": "i", "type": "quantitative"}
      }
    }
  ]
}
